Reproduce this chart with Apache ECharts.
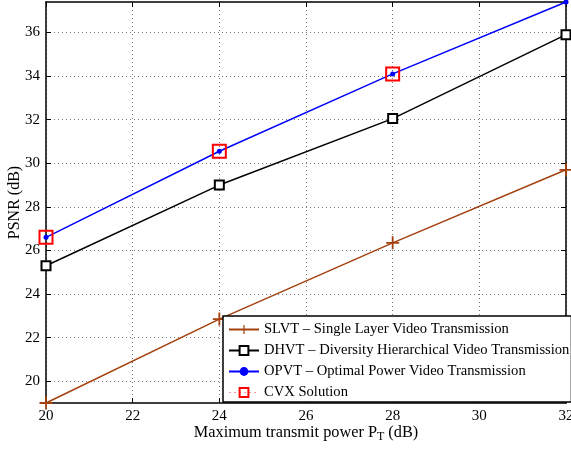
<!DOCTYPE html>
<html>
<head>
<meta charset="utf-8">
<script src="https://cdn.jsdelivr.net/npm/echarts@6/dist/echarts.min.js"></script>
<style>
  html, body { margin: 0; padding: 0; background: #fff; }
  #main { width: 571px; height: 450px; }
</style>
</head>
<body>
<div id="main"></div>
<script>
// x positions (dB)
var powers = [20, 24, 28, 32];
// PSNR values
var slvt = [19.0, 22.85, 26.35, 29.7];
var dhvt = [25.3, 29.0, 32.05, 35.9];
var opvt = [26.6, 30.55, 34.1, 37.4];
var cvx = [26.6, 30.55, 34.1];
var yTicks = [20, 22, 24, 26, 28, 30, 32, 34, 36];

var names = [
    'SLVT \u2013 Single Layer Video Transmission',
    'DHVT \u2013 Diversity Hierarchical Video Transmission',
    'OPVT \u2013 Optimal Power Video Transmission',
    'CVX Solution'
];

function pairs(xs, ys) {
    return ys.map(function(v, i) { return [xs[i], v]; });
}

var font = 'Liberation Serif';
var plus = 'path://M4.3,0H5.7V4.3H10V5.7H5.7V10H4.3V5.7H0V4.3H4.3Z';

var myChart = echarts.init(document.getElementById('main'));

var tickStyle = { show: true, inside: true, length: 5, lineStyle: { color: '#000' } };
var grid = { color: '#777', width: 1, type: [1, 3] };
var frame = { color: '#000', width: 1.5 };

var option = {
    backgroundColor: '#fff',
    animation: false,
    grid: { left: 46, right: 5, top: 2, bottom: 47, outerBoundsMode: 'none', containLabel: false },
    xAxis: [{
        type: 'value', min: 20, max: 32, interval: 2,
        name: 'Maximum transmit power P{sub|T} (dB)',
        nameLocation: 'middle', nameGap: 19, nameMoveOverlap: false,
        nameTextStyle: { fontFamily: font, fontSize: 16.3, color: '#000',
            rich: { sub: { fontFamily: font, fontSize: 12, color: '#000', verticalAlign: 'bottom', padding: [9, 0, 0, 0] } } },
        axisLine: { lineStyle: frame },
        axisTick: tickStyle,
        axisLabel: { fontFamily: font, fontSize: 15, color: '#000', margin: 6 },
        splitLine: { show: true, lineStyle: grid }
    }, {
        type: 'value', min: 20, max: 32, interval: 2, position: 'top',
        axisLine: { show: true, lineStyle: frame },
        axisTick: tickStyle, axisLabel: { show: false }, splitLine: { show: false }
    }],
    yAxis: [{
        type: 'value', min: 19, max: 37.4,
        name: 'PSNR (dB)', nameLocation: 'middle', nameGap: 23, nameMoveOverlap: false,
        nameTextStyle: { fontFamily: font, fontSize: 16, color: '#000' },
        axisLine: { show: true, lineStyle: frame },
        axisTick: Object.assign({ customValues: yTicks }, tickStyle),
        axisLabel: { customValues: yTicks, fontFamily: font, fontSize: 15, color: '#000', margin: 6 },
        splitLine: { show: true, lineStyle: grid }
    }, {
        type: 'value', min: 19, max: 37.4, position: 'right',
        axisLine: { show: true, lineStyle: frame },
        axisTick: Object.assign({ customValues: yTicks }, tickStyle),
        axisLabel: { show: false }, splitLine: { show: false }
    }],
    legend: {
        orient: 'vertical', left: 223, top: 316,
        backgroundColor: '#fff', borderColor: '#000', borderWidth: 1.5,
        padding: [6, 2, 2, 5], itemGap: 6, itemWidth: 30, itemHeight: 11,
        textStyle: { fontFamily: font, fontSize: 14.6, color: '#000' },
        data: [
            { name: names[0] },
            { name: names[1] },
            { name: names[2] },
            { name: names[3], lineStyle: { type: [2, 3], color: '#f99', width: 1, opacity: 1 } }
        ]
    },
    series: [
        {
            name: names[0], type: 'line', data: pairs(powers, slvt), clip: false,
            symbol: plus, symbolSize: 13,
            lineStyle: { color: '#a3410e', width: 1.5 },
            itemStyle: { color: '#a3410e' }
        },
        {
            name: names[1], type: 'line', data: pairs(powers, dhvt), clip: false,
            symbol: 'emptyRect', symbolSize: 9,
            lineStyle: { color: '#000', width: 1.5 },
            itemStyle: { color: '#000', borderWidth: 1.5 }
        },
        {
            name: names[2], type: 'line', data: pairs(powers, opvt), clip: false,
            symbol: 'circle', symbolSize: 5,
            lineStyle: { color: '#0000ff', width: 1.5 },
            itemStyle: { color: '#0000ff' }
        },
        {
            name: names[3], type: 'line', data: pairs(powers, cvx), clip: false,
            symbol: 'rect', symbolSize: 13, z: 5,
            lineStyle: { opacity: 0 },
            itemStyle: { color: 'rgba(0,0,0,0)', borderColor: '#ff0000', borderWidth: 2 }
        }
    ]
};

myChart.setOption(option);
</script>
</body>
</html>
